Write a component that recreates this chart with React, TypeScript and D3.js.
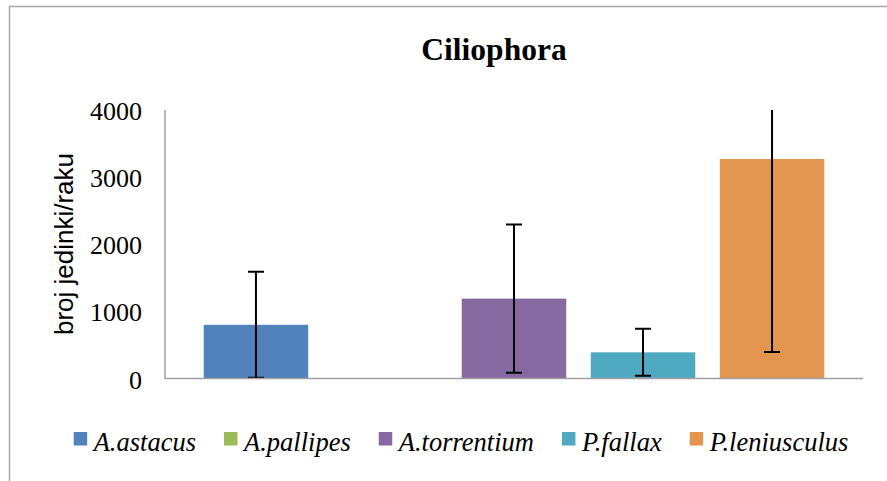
import { useRef, useEffect } from "react";
import * as d3 from "d3";

const species = ["A.astacus", "A.pallipes", "A.torrentium", "P.fallax", "P.leniusculus"];
const means = [800, 0, 1190, 390, 3270];
const errors = [790, 0, 1105, 350, 2875];
const colors = ["#5182BB", "#9BBB59", "#8669A0", "#4FA9C0", "#E3964F"];
const yTicks = [0, 1000, 2000, 3000, 4000];

const W = 887;
const H = 481;
const SERIF = "Liberation Serif";
const SANS = "Liberation Sans";

export default function App() {
  const svgRef = useRef<SVGSVGElement>(null);

  useEffect(() => {
    if (!svgRef.current) return;
    const svg = d3.select(svgRef.current);
    svg.selectAll("*").remove();

    const plot = { left: 165, right: 863, top: 110, bottom: 378.5 };

    // chart frame (runs past the picture edge)
    svg
      .append("rect")
      .attr("x", 9.5)
      .attr("y", 6.5)
      .attr("width", 920)
      .attr("height", 520)
      .attr("fill", "#fff")
      .attr("stroke", "#a6a6a6")
      .attr("stroke-width", 1.5);

    const x = d3
      .scaleBand()
      .domain(species)
      .range([plot.left, plot.right])
      .paddingInner(0.19)
      .paddingOuter(0.3);

    const y = d3.scaleLinear().domain([0, 4000]).range([plot.bottom, plot.top]);

    svg
      .append("defs")
      .append("clipPath")
      .attr("id", "plotClip")
      .append("rect")
      .attr("x", plot.left)
      .attr("y", plot.top)
      .attr("width", plot.right - plot.left)
      .attr("height", plot.bottom - plot.top);

    // title
    svg
      .append("text")
      .attr("x", 494)
      .attr("y", 60)
      .attr("text-anchor", "middle")
      .attr("font-family", SERIF)
      .attr("font-weight", "bold")
      .attr("font-size", 31.5)
      .text("Ciliophora");

    // y axis title
    svg
      .append("text")
      .attr("transform", `translate(73,244) rotate(-90)`)
      .attr("text-anchor", "middle")
      .attr("font-family", SANS)
      .attr("font-size", 26)
      .text("broj jedinki/raku");

    // y tick labels
    svg
      .append("g")
      .selectAll("text")
      .data(yTicks)
      .join("text")
      .attr("x", 142)
      .attr("y", (d) => y(d) + 10)
      .attr("text-anchor", "end")
      .attr("font-family", SERIF)
      .attr("font-size", 26)
      .text((d) => String(d));

    const g = svg.append("g").attr("clip-path", "url(#plotClip)");

    // bars
    g.selectAll(".bar")
      .data(species)
      .join("rect")
      .attr("class", "bar")
      .attr("x", (d) => x(d) ?? 0)
      .attr("y", (_, i) => y(means[i]))
      .attr("width", x.bandwidth())
      .attr("height", (_, i) => plot.bottom - y(means[i]))
      .attr("fill", (_, i) => colors[i]);

    // error bars
    const eb = g
      .selectAll(".err")
      .data(species.filter((_, i) => means[i] > 0))
      .join("g")
      .attr("class", "err");
    const idx = (d: string) => species.indexOf(d);
    const cx = (d: string) => (x(d) ?? 0) + x.bandwidth() / 2;
    eb.append("line")
      .attr("x1", cx)
      .attr("x2", cx)
      .attr("y1", (d) => y(means[idx(d)] + errors[idx(d)]))
      .attr("y2", (d) => y(Math.max(0, means[idx(d)] - errors[idx(d)])))
      .attr("stroke", "#000")
      .attr("stroke-width", 2);
    [1, -1].forEach((s) => {
      eb.append("line")
        .attr("x1", (d) => cx(d) - 8)
        .attr("x2", (d) => cx(d) + 8)
        .attr("y1", (d) => y(means[idx(d)] + s * errors[idx(d)]))
        .attr("y2", (d) => y(means[idx(d)] + s * errors[idx(d)]))
        .attr("stroke", "#000")
        .attr("stroke-width", 2);
    });

    // axis lines
    svg
      .append("path")
      .attr("d", `M${plot.left},${plot.top}V${plot.bottom}H${plot.right}`)
      .attr("fill", "none")
      .attr("stroke", "#a0a0a0")
      .attr("stroke-width", 1.5);

    // legend
    const leg = svg.append("g");
    const items = leg
      .selectAll("g")
      .data(species)
      .join("g");
    items
      .append("rect")
      .attr("width", 13.5)
      .attr("height", 13.5)
      .attr("y", -18.5)
      .attr("fill", (_, i) => colors[i]);
    const labels = items
      .append("text")
      .attr("x", 20)
      .attr("font-family", SERIF)
      .attr("font-style", "italic")
      .attr("font-size", 26.5)
      .text((d) => d);
    const widths: number[] = [];
    labels.each(function () {
      widths.push((this as SVGTextElement).getComputedTextLength());
    });
    const gap = 28;
    const total = d3.sum(widths.map((w) => w + 20)) + gap * (widths.length - 1);
    let cur = 461 - total / 2;
    const offs: number[] = [];
    widths.forEach((w) => {
      offs.push(cur);
      cur += w + 20 + gap;
    });
    items.attr("transform", (_, i) => `translate(${offs[i]},450.5)`);
  }, []);

  return (
    <div style={{ position: "absolute", left: 0, top: 0 }}>
      <svg ref={svgRef} width={W} height={H} style={{ display: "block" }} />
    </div>
  );
}
